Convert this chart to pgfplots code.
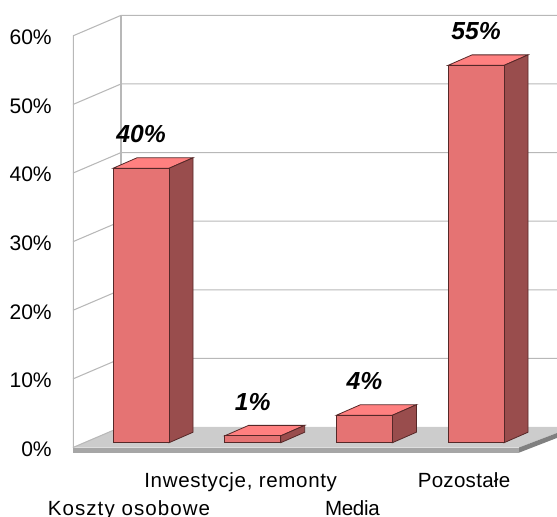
\documentclass[border=0pt]{standalone}
\usepackage{fontspec}
\setmainfont{Liberation Sans}
\usepackage{pgfplots}
\pgfplotsset{compat=1.18}

\definecolor{barfront}{RGB}{229,115,115}
\definecolor{bartop}{RGB}{255,128,128}
\definecolor{barside}{RGB}{153,77,77}
\definecolor{baredge}{RGB}{85,40,40}
\definecolor{wall}{RGB}{184,184,184}
\definecolor{floortop}{RGB}{204,204,204}
\definecolor{floorfront}{RGB}{166,166,166}
\definecolor{floorside}{RGB}{128,128,128}

\pgfplotsset{
  wall line/.style={draw=wall, line width=0.8pt, no markers},
  bar face/.style={draw=baredge, line width=0.6pt, no markers, fill=#1},
}

\begin{document}
\begin{tikzpicture}
% page is 557x517 px at 0.75pt each; the axis box runs from px (73,453) to (557,0)
\path[use as bounding box] (-54.75pt,-48pt) rectangle (363pt,339.75pt);
\begin{axis}[
    at={(0pt,0pt)}, anchor=south west,
    scale only axis, width=363pt, height=339.75pt,
    xmin=-0.609, xmax=3.725,
    ymin=-1.5, ymax=64.53,
    axis line style={draw=none},
    major tick length=0pt,
    tick style={draw=none},
    /pgf/number format/assume math mode=true,
    ytick={0,10,20,30,40,50,60},
    yticklabel={\pgfmathprintnumber{\tick}\%},
    yticklabel style={font=\fontsize{15.8}{18}\selectfont, anchor=east, inner sep=0pt, xshift=-15.75pt, yshift=-4.7pt},
    xtick={1,3},
    xticklabels={{\addfontfeatures{LetterSpace=3.2}Inwestycje, remonty},{\addfontfeatures{LetterSpace=1.4}Pozostałe}},
    xticklabel style={font=\fontsize{15.4}{18}\selectfont, anchor=base, inner sep=0pt, xshift=-9pt, yshift=-26pt},
    extra x ticks={0,2},
    extra x tick labels={{\addfontfeatures{LetterSpace=5.2}Koszty osobowe},{\addfontfeatures{LetterSpace=-1.5}Media}},
    extra x tick style={tick style={draw=none}, xticklabel style={yshift=-20.5pt}},
]

% floor
\addplot[fill=floortop, draw=none, no markers] coordinates {(-0.609,-0.7)(-0.179,2.29)(3.725,2.29)(3.725,1.41)(3.385,-0.7)} -- cycle;
\addplot[fill=floorfront, draw=none, no markers] coordinates {(-0.609,-0.7)(3.385,-0.7)(3.385,-1.45)(-0.609,-1.45)} -- cycle;
\addplot[fill=floorside, draw=none, no markers] coordinates {(3.385,-0.7)(3.725,1.41)(3.725,0.7)(3.385,-1.45)} -- cycle;

% walls and gridlines
\addplot[wall line] coordinates {(-0.609,-0.7)(-0.609,59.3)};
\addplot[wall line] coordinates {(-0.179,2.29)(-0.179,62.29)};
\addplot[wall line] coordinates {(-0.609,-0.7)(-0.179,2.29)};
\addplot[wall line] coordinates {(-0.609,9.3)(-0.179,12.29)(3.725,12.29)};
\addplot[wall line] coordinates {(-0.609,19.3)(-0.179,22.29)(3.725,22.29)};
\addplot[wall line] coordinates {(-0.609,29.3)(-0.179,32.29)(3.725,32.29)};
\addplot[wall line] coordinates {(-0.609,39.3)(-0.179,42.29)(3.725,42.29)};
\addplot[wall line] coordinates {(-0.609,49.3)(-0.179,52.29)(3.725,52.29)};
\addplot[wall line] coordinates {(-0.609,59.3)(-0.179,62.29)(3.725,62.29)};

% bar tops
\addplot[bar face=bartop] coordinates {(-0.251,40)(0.251,40)(0.466,41.53)(-0.036,41.53)} -- cycle;
\addplot[bar face=bartop] coordinates {(0.749,1)(1.251,1)(1.466,2.53)(0.964,2.53)} -- cycle;
\addplot[bar face=bartop] coordinates {(1.749,4)(2.251,4)(2.466,5.53)(1.964,5.53)} -- cycle;
\addplot[bar face=bartop] coordinates {(2.749,55)(3.251,55)(3.466,56.53)(2.964,56.53)} -- cycle;

% bar sides
\addplot[bar face=barside] coordinates {(0.251,0)(0.466,1.53)(0.466,41.53)(0.251,40)} -- cycle;
\addplot[bar face=barside] coordinates {(1.251,0)(1.466,1.53)(1.466,2.53)(1.251,1)} -- cycle;
\addplot[bar face=barside] coordinates {(2.251,0)(2.466,1.53)(2.466,5.53)(2.251,4)} -- cycle;
\addplot[bar face=barside] coordinates {(3.251,0)(3.466,1.53)(3.466,56.53)(3.251,55)} -- cycle;

% bar fronts with value labels
\addplot[ybar, bar width=42pt, bar face=barfront,
    point meta=y,
    nodes near coords={\pgfmathprintnumber{\pgfplotspointmeta}\%},
    nodes near coords style={font=\fontsize{18.5}{22}\selectfont\bfseries\itshape, text=black, anchor=center, inner sep=0pt, yshift=25.5pt, /pgf/number format/assume math mode=true},
  ] coordinates {(0,40)(1,1)(2,4)(3,55)};

\end{axis}
\end{tikzpicture}
\end{document}
